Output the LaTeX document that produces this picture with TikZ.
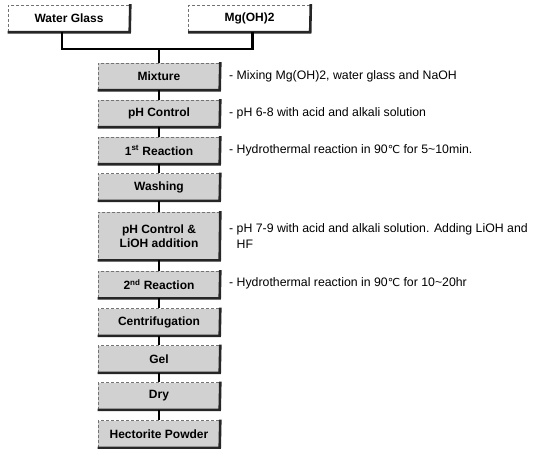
\documentclass[tikz,border=0pt]{standalone}
\usepackage{fontspec}
\setmainfont{Liberation Sans}
\newfontfamily\dejavu{DejaVu Sans}
\newcommand{\degC}{{\dejavu\fontsize{11}{14}\selectfont ℃}}
\begin{document}
\begin{tikzpicture}[x=1pt,y=-1pt,
  box/.style={draw=black!55, densely dashed, line width=0.6pt, fill=black!18,
    minimum width=122pt, minimum height=27pt, inner sep=0pt,
    font=\bfseries\fontsize{12}{14}\selectfont, align=center},
  topbox/.style={box, fill=white, minimum width=122pt},
  conn/.style={line width=2.4pt, black},
  shade/.style={line width=2.6pt, black!85},
  note/.style={anchor=west, inner sep=0pt, font=\fontsize{12.3}{16}\selectfont, align=left}]
\useasboundingbox (0,0) rectangle (548,449);

% top inputs
\node[topbox] (wg) at (69,18.5) {Water Glass};
\node[topbox] (mg) at (249.5,18.5) {Mg(OH)2};

% main column
\node[box] (mix) at (159,76.5) {Mixture};
\node[box] (ph1) at (159,113.5) {pH Control};
\node[box] (r1) at (159,150.5) {1\textsuperscript{st} Reaction};
\node[box] (wash) at (159,187) {Washing};
\node[box, minimum height=48pt] (ph2) at (159,236) {pH Control \&\\LiOH addition};
\node[box] (r2) at (159,284.5) {2\textsuperscript{nd} Reaction};
\node[box] (cen) at (159,322) {Centrifugation};
\node[box] (gel) at (159,359) {Gel};
\node[box] (dry) at (159,396) {Dry};
\node[box] (hec) at (159,434) {Hectorite Powder};

% shadow edges
\foreach \n in {wg,mg,mix,ph1,r1,wash,ph2,r2,cen,gel,dry,hec}
  \draw[shade] ([yshift=0.6pt]\n.north east) -- ([xshift=-0.6pt]\n.south east) -- (\n.south west);

% connectors
\coordinate (j) at (159,49);
\draw[conn] ([xshift=-7pt]wg.south) |- (j);
\draw[conn] ([xshift=3pt]mg.south) |- (j);
\draw[conn] (j) -- (mix.north);
\draw[conn] (mix.south) -- (ph1.north);
\draw[conn] (ph1.south) -- (r1.north);
\draw[conn] (r1.south) -- (wash.north);
\draw[conn] (wash.south) -- (ph2.north);
\draw[conn] (ph2.south) -- (r2.north);
\draw[conn] (r2.south) -- (cen.north);
\draw[conn] (cen.south) -- (gel.north);
\draw[conn] (gel.south) -- (dry.north);
\draw[conn] (dry.south) -- (hec.north);

% side notes
\node[note] (n1) at (229,76.5) {- Mixing Mg(OH)2, water glass and NaOH};
\node[note] (n2) at (229,113.5) {- pH 6-8 with acid and alkali solution};
\node[note] (n3) at (229,150.5) {- Hydrothermal reaction in 90\degC\ for 5\textasciitilde 10min.};
\node[note] (n4) at (229,237) {\begin{tabular}{@{}l@{\ }l@{}}- & pH 7-9 with acid and alkali solution. Adding LiOH and\\ & HF\end{tabular}};
\node[note] (n5) at (229,283) {- Hydrothermal reaction in 90\degC\ for 10\textasciitilde 20hr};
\end{tikzpicture}
\end{document}
